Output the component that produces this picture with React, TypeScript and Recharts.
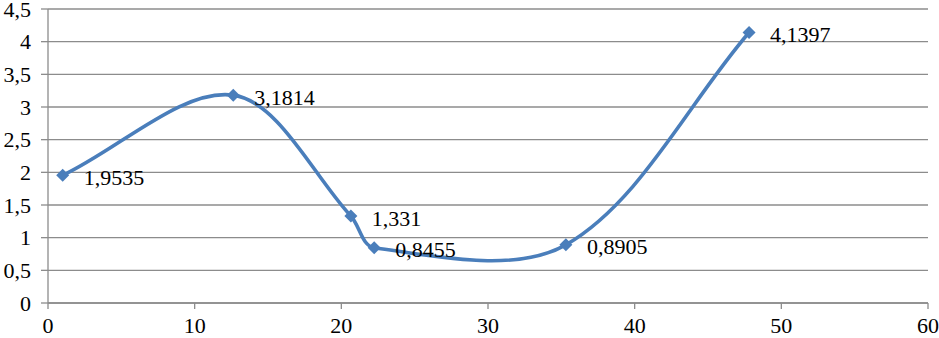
import React from 'react';
import { LineChart, Line, XAxis, YAxis, CartesianGrid } from 'recharts';

const xValues = [1.0, 12.63, 20.65, 22.24, 35.31, 47.8];
const yValues = [1.9535, 3.1814, 1.331, 0.8455, 0.8905, 4.1397];
const xTicks = [0, 10, 20, 30, 40, 50, 60];
const yTicks = [0, 0.5, 1, 1.5, 2, 2.5, 3, 3.5, 4, 4.5];

const data = xValues.map((x, i) => ({ x, y: yValues[i] }));

const fmt = (v: number) => String(v).replace('.', ',');

const BLUE = '#4A7EBB';
const GREY = '#8C8C8C';
const FONT = "'Times New Roman', 'Liberation Serif', Tinos, 'DejaVu Serif', serif";

// Excel-like smoothing: Bezier with proportional Catmull-Rom tangents
function excelSmooth(context: any) {
  let pts: number[][] = [];
  return {
    areaStart() {},
    areaEnd() {},
    lineStart() { pts = []; },
    point(x: number, y: number) { pts.push([+x, +y]); },
    lineEnd() {
      const n = pts.length;
      if (!n) return;
      context.moveTo(pts[0][0], pts[0][1]);
      const d = (a: number[], b: number[]) => Math.hypot(b[0] - a[0], b[1] - a[1]);
      for (let i = 0; i < n - 1; i++) {
        const p0 = pts[Math.max(0, i - 1)];
        const p1 = pts[i];
        const p2 = pts[i + 1];
        const p3 = pts[Math.min(n - 1, i + 2)];
        const d01 = d(p0, p1), d12 = d(p1, p2), d23 = d(p2, p3);
        const f1 = d01 + d12 > 0 ? d12 / (d01 + d12) : 0;
        const f2 = d12 + d23 > 0 ? d12 / (d12 + d23) : 0;
        const c1x = p1[0] + (p2[0] - p0[0]) * f1 / 3;
        const c1y = p1[1] + (p2[1] - p0[1]) * f1 / 3;
        const c2x = p2[0] - (p3[0] - p1[0]) * f2 / 3;
        const c2y = p2[1] - (p3[1] - p1[1]) * f2 / 3;
        context.bezierCurveTo(c1x, c1y, c2x, c2y, p2[0], p2[1]);
      }
    },
  };
}

const DiamondDot = (props: any) => {
  const { cx, cy, payload, index } = props;
  if (cx == null || cy == null) return null;
  const r = 6.5;
  return (
    <g key={`d-${index}`}>
      <path d={`M${cx},${cy - r}L${cx + r},${cy}L${cx},${cy + r}L${cx - r},${cy}Z`} fill={BLUE} />
      <text
        x={cx + 21}
        y={cy + 2}
        dominantBaseline="central"
        fontFamily={FONT}
        fontSize={22}
        fill="#000"
      >
        {fmt(payload.y)}
      </text>
    </g>
  );
};

const tickStyle = { fill: '#000', fontFamily: FONT, fontSize: 22 };

export default function App() {
  return (
    <div style={{ position: 'absolute', left: 0, top: 0, background: '#fff', fontFamily: FONT }}>
      <LineChart
        width={939}
        height={338}
        data={data}
        margin={{ top: 9, right: 11, left: 0, bottom: 0 }}
      >
        <CartesianGrid vertical={false} stroke={GREY} strokeWidth={1.3} />
        <XAxis
          type="number"
          dataKey="x"
          domain={[0, 60]}
          ticks={xTicks}
          height={35}
          tickSize={6}
          tickMargin={8}
          stroke={GREY}
          strokeWidth={1.3}
          tick={tickStyle}
          interval={0}
        />
        <YAxis
          type="number"
          domain={[0, 4.5]}
          ticks={yTicks}
          width={48}
          tickSize={7}
          tickMargin={10}
          stroke={GREY}
          strokeWidth={1.3}
          tickFormatter={fmt}
          tick={tickStyle}
          interval={0}
        />
        <Line
          dataKey="y"
          type={excelSmooth as any}
          stroke={BLUE}
          strokeWidth={3.6}
          dot={DiamondDot}
          activeDot={false}
          isAnimationActive={false}
        />
      </LineChart>
    </div>
  );
}
